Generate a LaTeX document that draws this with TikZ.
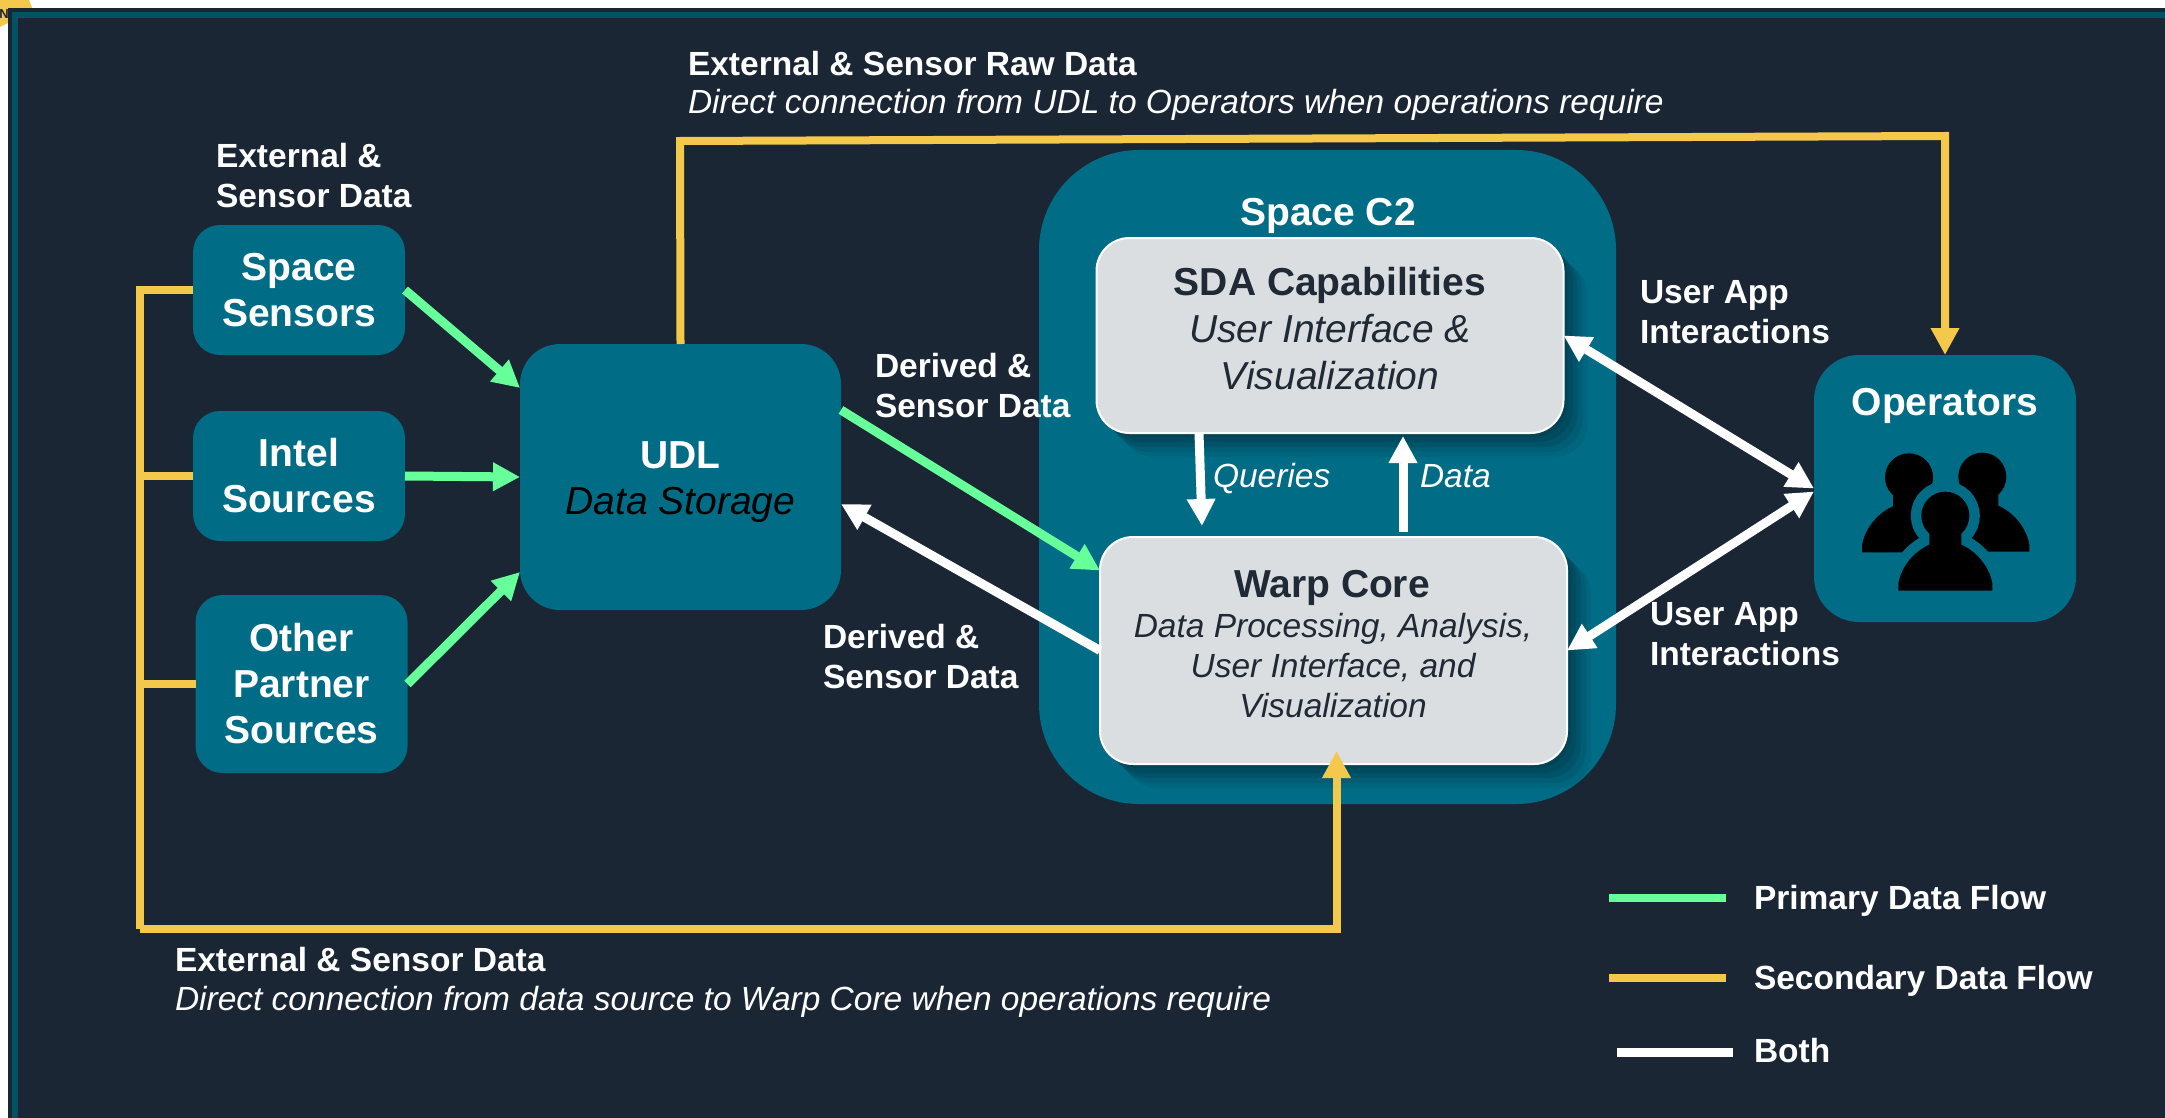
\documentclass[tikz,border=0pt]{standalone}
\usepackage{fontspec}
\usepackage{xcolor}
\setmainfont{Liberation Sans}
\usetikzlibrary{arrows.meta}
\usetikzlibrary{calc}
\usetikzlibrary{shadows}
\definecolor{custom-navy}{RGB}{27, 38, 53}
\definecolor{custom-frame}{RGB}{0, 84, 98}
\definecolor{custom-teal}{RGB}{0, 108, 133}
\definecolor{custom-shade}{RGB}{0, 62, 80}
\definecolor{custom-grey}{RGB}{219, 222, 225}
\definecolor{custom-ink}{RGB}{31, 42, 54}
\definecolor{custom-green}{RGB}{102, 255, 153}
\definecolor{custom-yellow}{RGB}{244, 200, 74}
\tikzset{
    sourcebox/.style={fill=custom-teal, rounded corners=27pt, minimum width=212pt, minimum height=130pt,
        inner sep=0pt, outer sep=0pt, align=center, text=white, font=\fontsize{39}{46}\selectfont\bfseries},
    lightbox/.style={fill=custom-grey, draw=white, line width=2pt, rounded corners=33pt, inner sep=0pt, outer sep=0pt,
        align=center, text=custom-ink, minimum width=467pt,
        drop shadow={shadow xshift=24pt, shadow yshift=-24pt, fill=custom-shade, opacity=0.12},
        drop shadow={shadow xshift=19pt, shadow yshift=-19pt, fill=custom-shade, opacity=0.2},
        drop shadow={shadow xshift=14pt, shadow yshift=-14pt, fill=custom-shade, opacity=0.3},
        drop shadow={shadow xshift=9pt, shadow yshift=-9pt, fill=custom-shade, opacity=0.4},
        drop shadow={shadow xshift=4pt, shadow yshift=-4pt, fill=custom-shade, opacity=0.5}},
    boldlabel/.style={anchor=west, inner sep=0pt, outer sep=0pt, align=left, text=white, font=\fontsize{33.5}{40}\selectfont\bfseries},
    notelabel/.style={anchor=west, inner sep=0pt, outer sep=0pt, text=white, font=\fontsize{33.5}{40}\selectfont\itshape},
    primaryflow/.style={draw=custom-green, line width=9pt, -{Triangle[length=27pt,width=27pt]}},
    secondaryflow/.style={draw=custom-yellow, line width=8pt},
    bothflow/.style={draw=white, line width=9pt},
    tipend/.style={-{Triangle[length=27pt,width=27pt]}},
    tipboth/.style={{Triangle[length=27pt,width=27pt]}-{Triangle[length=27pt,width=27pt]}},
}
\begin{document}
\begin{tikzpicture}[x=1pt, y=-1pt]
\useasboundingbox (0,0) rectangle (2165,1118);
% page
\fill[white] (0,0) rectangle (2165,1118);
\fill[custom-yellow] (0,0) -- (29,0) -- (33,10) -- (8,10) -- (8,23) -- (0,27) -- cycle;
\fill[custom-navy] (8,8) rectangle (2165,1118);
\draw[custom-frame, line width=6pt] (15,1118) -- (15,15.5) -- (2165,15.5);
\node[inner sep=0pt, text=custom-navy, font=\fontsize{13}{13}\selectfont\bfseries] (badge) at (4,14) {N};

% boxes
\node[sourcebox] (spacesensors) at (299,290) {Space\\Sensors};
\node[sourcebox] (intel) at (299,476) {Intel\\Sources};
\node[sourcebox, minimum height=178pt] (partner) at (301.5,684) {Other\\Partner\\Sources};
\node[sourcebox, rounded corners=40pt, minimum width=321pt, minimum height=266pt] (udl) at (680.5,477) {};
\node[align=center, inner sep=0pt, text=white, font=\fontsize{39}{46}\selectfont] (udltext) at (680.5,482)
    {\textbf{UDL}\\{\itshape\color{black}Data Storage}};
\node[sourcebox, rounded corners=100pt, minimum width=577pt, minimum height=654pt] (spacec2) at (1327.5,477) {};
\node[text=white, inner sep=0pt, font=\fontsize{39}{46}\selectfont\bfseries] (spacec2label) at (1328,216) {Space C2};
\node[lightbox, minimum height=195pt] (sda) at (1330,335.5) {};
\node[align=center, inner sep=0pt, text=custom-ink, font=\fontsize{39}{47}\selectfont] (sdatext) at (1330,329)
    {\textbf{SDA Capabilities}\\\textit{User Interface \&}\\\textit{Visualization}};
\node[lightbox, minimum height=227pt] (warp) at (1333.5,650.5) {};
\node[inner sep=0pt, text=custom-ink, font=\fontsize{39}{46}\selectfont\bfseries] (warptitle) at (1332,588) {Warp Core};
\node[align=center, inner sep=0pt, text=custom-ink, font=\fontsize{33.5}{40}\selectfont\itshape] (warptext) at (1333,666)
    {Data Processing, Analysis,\\User Interface, and\\Visualization};
\node[sourcebox, rounded corners=45pt, minimum width=262pt, minimum height=267pt] (operators) at (1945,488.5) {};
\node[text=white, inner sep=0pt, font=\fontsize{39}{46}\selectfont\bfseries] (operatorslabel) at (1945,406) {Operators};

% people
\tikzset{personbody/.style={insert path={
    (-47,75) -- (-47,68) .. controls (-44,50) and (-30,35) .. (-16,29) -- (-16,15) -- (16,15) -- (16,29)
    .. controls (30,35) and (44,50) .. (47,68) -- (47,75) -- cycle (0,0) ellipse [x radius=24, y radius=24]}}}
\fill[black, shift={(1909,477.3)}, personbody];
\fill[black, shift={(1982.3,476.7)}, personbody];
\draw[custom-teal, fill=custom-teal, line width=21pt, line join=round, shift={(1945.3,515.7)}, personbody];
\fill[black, shift={(1945.3,515.7)}, personbody];

% secondary flows
\coordinate (busbottom) at (140,929);
\coordinate (topbend) at (680,141);
\coordinate (topturn) at (1945,136);
\draw[secondaryflow] (spacesensors.west) -| (busbottom);
\draw[secondaryflow] (intel.west) -- (intel.west -| busbottom);
\draw[secondaryflow] (partner.west) -- (partner.west -| busbottom);
\draw[secondaryflow, tipend] (busbottom) -| ([xshift=3pt, yshift=13pt]warp.south);
\draw[secondaryflow, tipend] (udl.north) -- (topbend) -- (topturn) -- (operators.north);

% primary flows
\draw[primaryflow] (spacesensors.east) -- ([yshift=89pt]udl.west);
\draw[primaryflow] (intel.east) -- (udl.west);
\draw[primaryflow] (partner.east) -- ([yshift=-95pt]udl.west);
\draw[primaryflow] ([yshift=67pt]udl.east) -- ([yshift=80pt]warp.west);

% both
\draw[bothflow, tipend] (warp.west) -- ([yshift=-27pt]udl.east);
\draw[bothflow, tipend] ([xshift=-131pt]sda.south) -- ([xshift=-131.5pt, yshift=11pt]warp.north);
\draw[bothflow, tipend] ([xshift=69.5pt, yshift=5pt]warp.north) -- ([xshift=73pt, yshift=-3pt]sda.south);
\draw[bothflow, tipboth] (sda.east) -- (operators.west);
\draw[bothflow, tipboth] (warp.east) -- ([yshift=-3pt]operators.west);

% labels
\node[boldlabel] (rawlabel) at (688,64) {External \& Sensor Raw Data};
\node[notelabel] (rawnote) at (688,105) {Direct connection from UDL to Operators when operations require};
\node[boldlabel] (sourcelabel) at (216,176) {External \&\\Sensor Data};
\node[boldlabel] (derivedtop) at (875,386) {Derived \&\\Sensor Data};
\node[boldlabel] (derivedlow) at (823,657) {Derived \&\\Sensor Data};
\node[boldlabel] (apptop) at (1640,312) {User App\\Interactions};
\node[boldlabel] (applow) at (1650,634) {User App\\Interactions};
\node[notelabel] (querieslabel) at (1213,479) {Queries};
\node[notelabel] (datalabel) at (1420,476) {Data};
\node[boldlabel] (directlabel) at (175,960) {External \& Sensor Data};
\node[notelabel] (directnote) at (175,1002) {Direct connection from data source to Warp Core when operations require};

% legend
\coordinate (primarya) at (1609,898);
\coordinate (primaryb) at (1726,898);
\coordinate (secondarya) at (1609,978);
\coordinate (secondaryb) at (1726,978);
\coordinate (botha) at (1617,1052);
\coordinate (bothb) at (1733,1052);
\draw[secondaryflow, custom-green] (primarya) -- (primaryb);
\draw[secondaryflow] (secondarya) -- (secondaryb);
\draw[bothflow] (botha) -- (bothb);
\node[boldlabel] (primarylabel) at (1754,901) {Primary Data Flow};
\node[boldlabel] (secondarylabel) at (1754,981) {Secondary Data Flow};
\node[boldlabel] (bothlabel) at (1754,1051) {Both};
\end{tikzpicture}
\end{document}
